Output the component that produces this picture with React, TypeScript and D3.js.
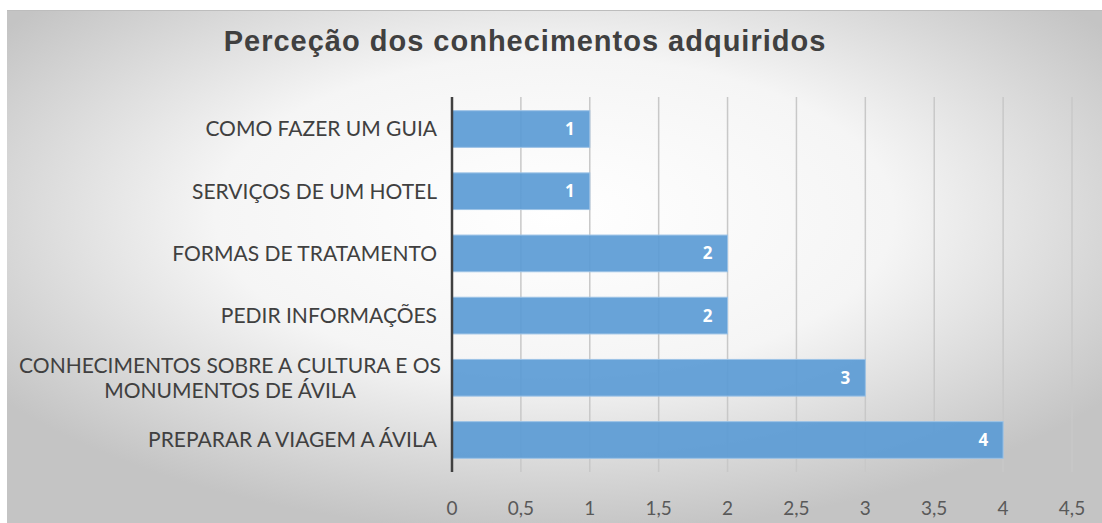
import { useRef, useEffect } from 'react';
import * as d3 from 'd3';

const categories = [
  'COMO FAZER UM GUIA',
  'SERVIÇOS DE UM HOTEL',
  'FORMAS DE TRATAMENTO',
  'PEDIR INFORMAÇÕES',
  'CONHECIMENTOS SOBRE A CULTURA E OS|MONUMENTOS DE ÁVILA',
  'PREPARAR A VIAGEM A ÁVILA',
];
const values = [1, 1, 2, 2, 3, 4];
const ticks = [0, 0.5, 1, 1.5, 2, 2.5, 3, 3.5, 4, 4.5];
const title = 'Perceção dos conhecimentos adquiridos';

export default function App() {
  const svgRef = useRef<SVGSVGElement>(null);

  useEffect(() => {
    if (!svgRef.current) return;
    const svg = d3.select(svgRef.current);
    svg.selectAll('*').remove();

    const width = 1102;
    const height = 523;
    const margin = { top: 97, right: 30, bottom: 51, left: 452 };

    const defs = svg.append('defs');
    const grad = defs.append('radialGradient').attr('id', 'bg').attr('cx', '50%').attr('cy', '40%').attr('r', '62%');
    grad.append('stop').attr('offset', '0%').attr('stop-color', '#ffffff');
    grad.append('stop').attr('offset', '50%').attr('stop-color', '#f5f5f5');
    grad.append('stop').attr('offset', '100%').attr('stop-color', '#c4c4c4');

    svg.append('rect').attr('x', 0).attr('y', 0).attr('width', width).attr('height', height).attr('fill', '#ffffff');
    svg.append('rect').attr('x', 7).attr('y', 10).attr('width', width - 7).attr('height', height - 10).attr('fill', 'url(#bg)');
    svg.append('line').attr('x1', 7).attr('x2', width).attr('y1', 10.5).attr('y2', 10.5).attr('stroke', '#bdbdbd');

    svg.append('text')
      .attr('x', 525).attr('y', 51)
      .attr('text-anchor', 'middle')
      .attr('font-family', '"Liberation Sans", Arial, sans-serif')
      .attr('font-weight', 'bold')
      .attr('font-size', 29)
      .attr('letter-spacing', 1)
      .attr('fill', '#404040')
      .text(title);

    const x = d3.scaleLinear().domain([0, 4.5]).range([margin.left, width - margin.right]);
    const y = d3.scaleBand().domain(categories).range([margin.top, height - margin.bottom]).paddingInner(0.41).paddingOuter(0.22);

    const g = svg.append('g');

    g.selectAll('.grid')
      .data(ticks.slice(1))
      .join('line')
      .attr('x1', (d) => x(d)).attr('x2', (d) => x(d))
      .attr('y1', margin.top).attr('y2', height - margin.bottom)
      .attr('stroke', '#c8c8c8').attr('stroke-width', 1.5);

    g.selectAll('.bar')
      .data(values)
      .join('rect')
      .attr('x', x(0))
      .attr('y', (_, i) => y(categories[i])!)
      .attr('width', (d) => x(d) - x(0))
      .attr('height', y.bandwidth())
      .attr('fill', '#5b9bd5')
      .attr('fill-opacity', 0.92)
      .attr('stroke', '#9dc3e6')
      .attr('stroke-width', 1);

    g.selectAll('.val')
      .data(values)
      .join('text')
      .attr('x', (d) => x(d) - 15)
      .attr('y', (_, i) => y(categories[i])! + y.bandwidth() / 2)
      .attr('dy', '0.35em')
      .attr('text-anchor', 'end')
      .attr('font-family', '"Open Sans", sans-serif')
      .attr('font-weight', 'bold')
      .attr('font-size', 17)
      .attr('fill', '#ffffff')
      .text((d) => String(d));

    g.append('line')
      .attr('x1', x(0)).attr('x2', x(0))
      .attr('y1', margin.top).attr('y2', height - margin.bottom)
      .attr('stroke', '#404040').attr('stroke-width', 2.5);

    const cat = g.selectAll('.cat')
      .data(categories)
      .join('text')
      .attr('text-anchor', 'end')
      .attr('font-family', 'Lato, "Open Sans", sans-serif')
      .attr('font-size', 21)
      .attr('fill', '#404040');
    cat.each(function (d) {
      const lines = d.split('|');
      const cy = y(d)! + y.bandwidth() / 2;
      const t = d3.select(this);
      lines.forEach((ln, k) => {
        t.append('tspan')
          .attr('x', 437)
          .attr('y', cy + (k - (lines.length - 1) / 2) * 25)
          .attr('dy', '0.35em')
          .text(ln);
      });
      if (lines.length > 1) t.attr('text-anchor', 'middle').selectAll('tspan').attr('x', 230);
    });

    g.selectAll('.tick')
      .data(ticks)
      .join('text')
      .attr('x', (d) => x(d))
      .attr('y', 508)
      .attr('dy', '0.35em')
      .attr('text-anchor', 'middle')
      .attr('font-family', 'Lato, "Open Sans", sans-serif')
      .attr('font-size', 19)
      .attr('fill', '#595959')
      .text((d) => String(d).replace('.', ','));
  }, []);

  return <svg ref={svgRef} width={1102} height={523} style={{ display: 'block', position: 'absolute', left: 0, top: 0 }} />;
}
